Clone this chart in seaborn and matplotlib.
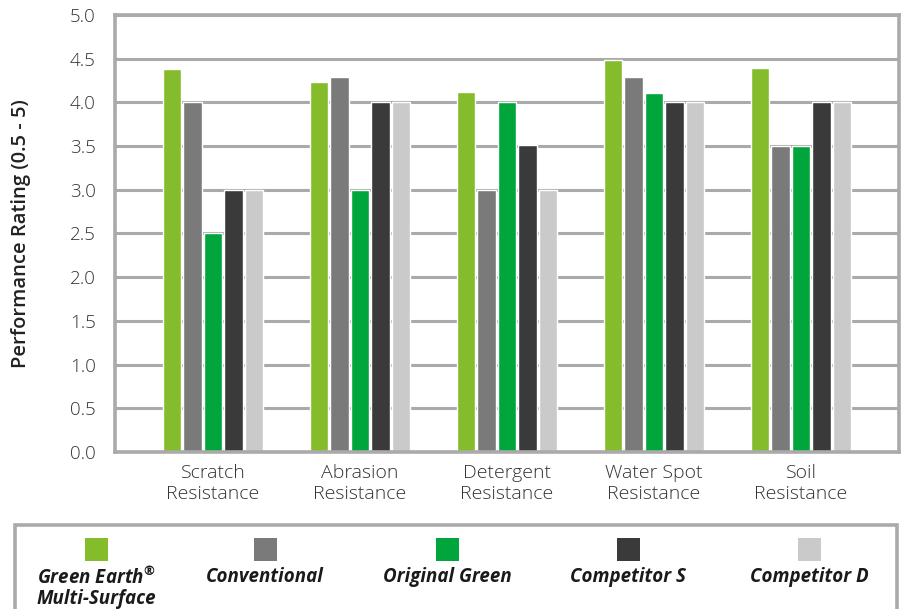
import matplotlib
matplotlib.use("Agg")
import matplotlib.pyplot as plt
from matplotlib.patches import Rectangle
import seaborn as sns
import pandas as pd

tests = ["Scratch\nResistance", "Abrasion\nResistance", "Detergent\nResistance",
         "Water Spot\nResistance", "Soil\nResistance"]
products = ["Green Earth$^{®}$\nMulti-Surface", "Conventional",
            "Original Green", "Competitor S", "Competitor D"]
green_earth = [4.38, 4.23, 4.12, 4.49, 4.39]
conventional = [4.0, 4.29, 3.0, 4.29, 3.5]
original_green = [2.5, 3.0, 4.0, 4.11, 3.5]
competitor_s = [3.0, 4.0, 3.51, 4.0, 4.0]
competitor_d = [3.0, 4.0, 3.0, 4.0, 4.0]
colors = ["#84bc2c", "#797a79", "#00a63c", "#3a3a3a", "#c9cac9"]
yticks = [0.0, 0.5, 1.0, 1.5, 2.0, 2.5, 3.0, 3.5, 4.0, 4.5, 5.0]

series = [green_earth, conventional, original_green, competitor_s, competitor_d]
rows = []
for p, vals in zip(products, series):
    for t, v in zip(tests, vals):
        rows.append({"test": t, "product": p, "rating": v})
df = pd.DataFrame(rows)

sns.set_theme(style="white")
plt.rcParams["font.family"] = ["Open Sans", "DejaVu Sans"]
plt.rcParams["mathtext.fontset"] = "custom"
plt.rcParams["mathtext.it"] = "Open Sans:italic:bold"
plt.rcParams["mathtext.rm"] = "Open Sans:bold"

fig = plt.figure(figsize=(9.02, 6.09), dpi=100)
ax = fig.add_axes([0.1275, 0.2578, 0.8692, 0.7176])

sns.barplot(data=df, x="test", y="rating", hue="product", hue_order=products,
            order=tests, palette=colors, saturation=1, width=0.7, gap=0.1,
            legend=False, ax=ax)

ax.set_xlim(-0.667, 4.667)
ax.set_ylim(0, 5.0)
ax.set_yticks(yticks)
ax.set_yticklabels([f"{v:.1f}" for v in yticks])
ax.yaxis.grid(True, color="#aaaaaa", linewidth=2.2)
ax.set_axisbelow(True)
for s in ax.spines.values():
    s.set_color("#aaaaaa")
    s.set_linewidth(2.6)
ax.tick_params(axis="y", length=0, pad=14, labelsize=13.5, labelcolor="#333333")
ax.tick_params(axis="x", length=0, pad=9, labelsize=14, labelcolor="#333333")
for lab in ax.get_yticklabels() + ax.get_xticklabels():
    lab.set_fontweight("light")
for lab in ax.get_xticklabels():
    lab.set_linespacing(1.15)
ax.set_xlabel("")
ax.set_ylabel("Performance Rating (0.5 - 5)", fontsize=14.5, fontweight="semibold",
              color="#222222", labelpad=28)

# custom legend box
box = Rectangle((15 / 902, -0.05), 882 / 902, 0.05 + 1 - 525 / 609,
                transform=fig.transFigure, fill=False, edgecolor="#aaaaaa",
                linewidth=2.6, clip_on=False)
fig.patches.append(box)
centers = [96, 265, 447, 628, 809]
for cx, p, c in zip(centers, products, colors):
    sq = Rectangle(((cx - 11.5) / 902, 1 - 561 / 609), 23 / 902, 23 / 609,
                   transform=fig.transFigure, facecolor=c, edgecolor="none")
    fig.patches.append(sq)
    fig.text(cx / 902, 1 - 567 / 609, p, ha="center", va="top", fontsize=13.5,
             fontweight="bold", fontstyle="italic", color="#1a1a1a", linespacing=1.05)

fig.savefig("out.png", dpi=100)
